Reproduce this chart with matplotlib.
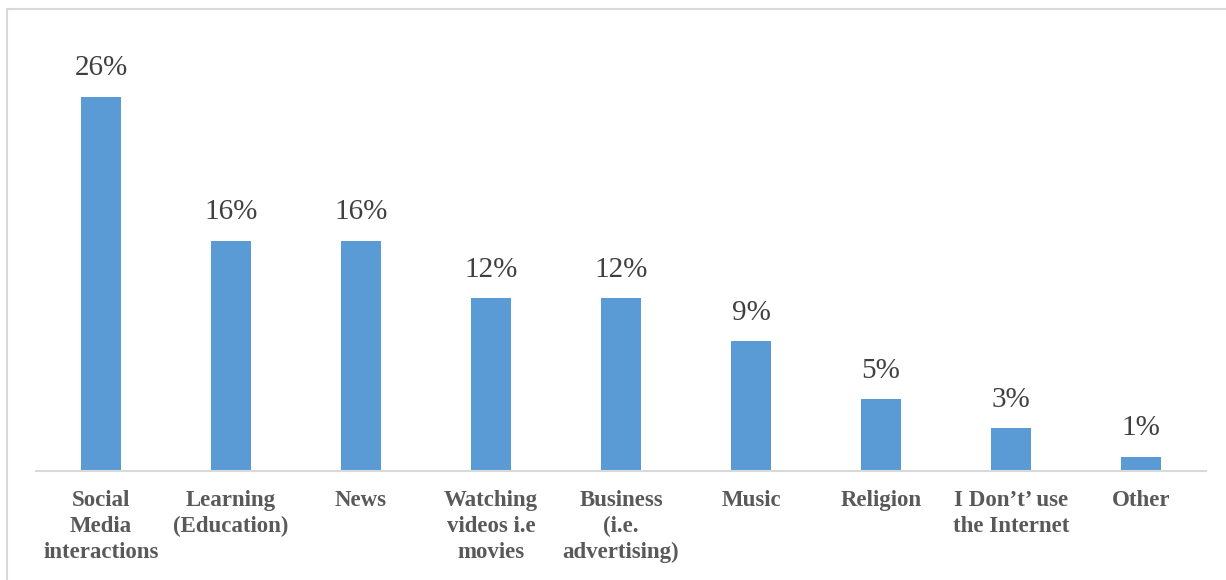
import matplotlib
matplotlib.use("Agg")
import matplotlib.pyplot as plt
from matplotlib.patches import Rectangle

categories = [
    "Social\nMedia\ninteractions",
    "Learning\n(Education)",
    "News",
    "Watching\nvideos i.e\nmovies",
    "Business\n(i.e.\nadvertising)",
    "Music",
    "Religion",
    "I Don\u2019t\u2019 use\nthe Internet",
    "Other",
]
shares = [26, 16, 16, 12, 12, 9, 5, 3, 1]

W, H = 1226, 580
fig = plt.figure(figsize=(W / 100, H / 100), dpi=100)
plt.rcParams["font.family"] = ["Liberation Serif", "DejaVu Serif"]

# outer chart frame (left and top edges visible)
frame = Rectangle((7 / W, -0.1), 1.2, (H - 9) / H + 0.1, transform=fig.transFigure,
                  fill=False, edgecolor="#d9d9d9", linewidth=1.5)
fig.patches.append(frame)

ax_left, ax_right = 36 / W, 1206 / W
ax_bottom, ax_top = 1 - 471 / H, 1 - 39 / H
ax = fig.add_axes([ax_left, ax_bottom, ax_right - ax_left, ax_top - ax_bottom])

x = list(range(len(categories)))
ax.bar(x, shares, width=0.31, color="#5B9BD5", zorder=2)
ax.set_xlim(-0.5, len(categories) - 0.5)
ax.set_ylim(0, 30)

for xi, v in zip(x, shares):
    ax.annotate(f"{v}%", (xi, v), xytext=(0, 11), textcoords="offset points",
                ha="center", va="bottom", fontsize=21, color="#404040")

for s in ["top", "right", "left"]:
    ax.spines[s].set_visible(False)
ax.spines["bottom"].set_color("#d9d9d9")
ax.spines["bottom"].set_linewidth(1.5)
ax.set_yticks([])
ax.set_xticks(x)
ax.set_xticklabels(categories, fontsize=16.5, fontweight="bold", color="#595959",
                   linespacing=1.3)
ax.tick_params(axis="x", length=0, pad=14)

fig.savefig("out.png", dpi=100)
